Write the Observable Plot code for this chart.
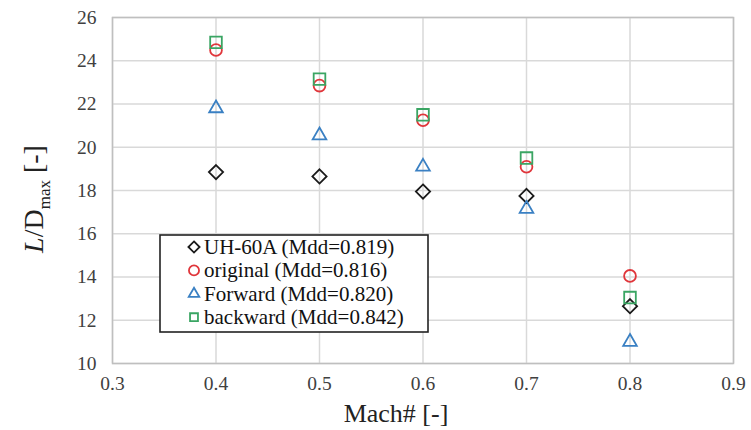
<!DOCTYPE html>
<html>
<head>
<meta charset="utf-8">
<script src="https://cdn.jsdelivr.net/npm/d3@7"></script>
<script src="https://cdn.jsdelivr.net/npm/@observablehq/plot@0.6"></script>
<style>
  html, body { margin: 0; padding: 0; background: #fff; }
</style>
</head>
<body>
<div id="wrap"></div>
<script>
// ---- data ----
const mach = [0.4, 0.5, 0.6, 0.7, 0.8];
const seriesNames = ["UH-60A (Mdd=0.819)", "original (Mdd=0.816)", "Forward (Mdd=0.820)", "backward (Mdd=0.842)"];
const uh60a    = [18.85, 18.65, 17.95, 17.75, 12.65];
const original = [24.5, 22.85, 21.25, 19.1, 14.05];
const forward  = [21.8, 20.55, 19.1, 17.15, 11.0];
const backward = [24.85, 23.15, 21.5, 19.5, 13.05];
const xTicks = [0.3, 0.4, 0.5, 0.6, 0.7, 0.8, 0.9];
const yTicks = [10, 12, 14, 16, 18, 20, 22, 24, 26];

const FONT = "Liberation Serif, Times New Roman, serif";
const seriesValues = [uh60a, original, forward, backward];
const seriesColors = ["#1a1a1a", "#e0363b", "#3a80c3", "#3aa563"];
const seriesSymbols = ["diamond2", "circle", "triangle2", "square2"];
const seriesR = [6.4, 5.9, 6.5, 7.4];

const rows = [];
seriesNames.forEach((name, i) => {
  mach.forEach((m, j) => rows.push({series: name, idx: i, mach: m, ld: seriesValues[i][j]}));
});

const chart = Plot.plot({
  width: 751,
  height: 430,
  marginLeft: 112,
  marginRight: 18,
  marginTop: 17,
  marginBottom: 67,
  style: {fontSize: "19.5px", color: "#404040", background: "#fff"},
  x: {domain: [0.3, 0.9], ticks: xTicks, tickSize: 0, tickPadding: 13, tickFormat: d => d.toFixed(1), label: null},
  y: {domain: [10, 26], ticks: yTicks, tickSize: 0, tickPadding: 16, label: null},
  marks: [
    Plot.gridX(xTicks, {stroke: "#d9d9d9", strokeOpacity: 1, strokeWidth: 1.5}),
    Plot.gridY(yTicks, {stroke: "#d9d9d9", strokeOpacity: 1, strokeWidth: 1.5}),
    Plot.frame({stroke: "#bfbfbf", strokeWidth: 1.5}),
    ...seriesNames.map((name, i) => Plot.dot(rows.filter(d => d.idx === i), {
      x: "mach", y: "ld",
      symbol: () => seriesSymbols[i],
      r: seriesR[i],
      stroke: seriesColors[i],
      fill: "none",
      strokeWidth: 1.8
    }))
  ]
});

document.getElementById("wrap").appendChild(chart);
const svg = d3.select(chart);
svg.selectAll("g").each(function() {
  if (this.hasAttribute("font-family")) this.setAttribute("font-family", FONT);
});
svg.selectAll("text").style("font-family", FONT).style("font-size", "19.5px").attr("fill", "#404040");

// axis titles
svg.append("text")
  .attr("x", 396).attr("y", 422)
  .attr("text-anchor", "middle")
  .style("font-family", FONT)
  .style("font-size", "26px").attr("fill", "#222")
  .text("Mach# [-]");

const yl = svg.append("text")
  .attr("transform", "translate(43,199) rotate(-90)")
  .attr("text-anchor", "middle")
  .style("font-family", FONT)
  .style("font-size", "28px").attr("fill", "#222");
yl.append("tspan").style("font-style", "italic").text("L");
yl.append("tspan").text("/D");
yl.append("tspan").attr("dy", "7").style("font-size", "17px").text("max");
yl.append("tspan").attr("dy", "-7").text(" [-]");

// legend (inside the svg)
const lg = svg.append("g").attr("text-anchor", "start");
lg.append("rect").attr("x", 160).attr("y", 235).attr("width", 268).attr("height", 97)
  .attr("fill", "#fff").attr("stroke", "#222").attr("stroke-width", 1.6);
const symIdx = [6, 0, 3, 5]; // diamond2, circle, triangle2, square2 in d3.symbolsStroke
seriesNames.forEach((name, i) => {
  const cy = 247 + i * 23.4;
  lg.append("path")
    .attr("d", d3.symbol(d3.symbolsStroke[symIdx[i]], 80)())
    .attr("transform", `translate(194,${cy})`)
    .attr("fill", "none").attr("stroke", seriesColors[i]).attr("stroke-width", 1.8);
  lg.append("text")
    .attr("x", 204).attr("y", cy + 7)
    .attr("text-anchor", "start")
    .style("font-family", FONT).style("font-size", "21px").attr("fill", "#111")
    .text(name);
});
</script>
</body>
</html>
